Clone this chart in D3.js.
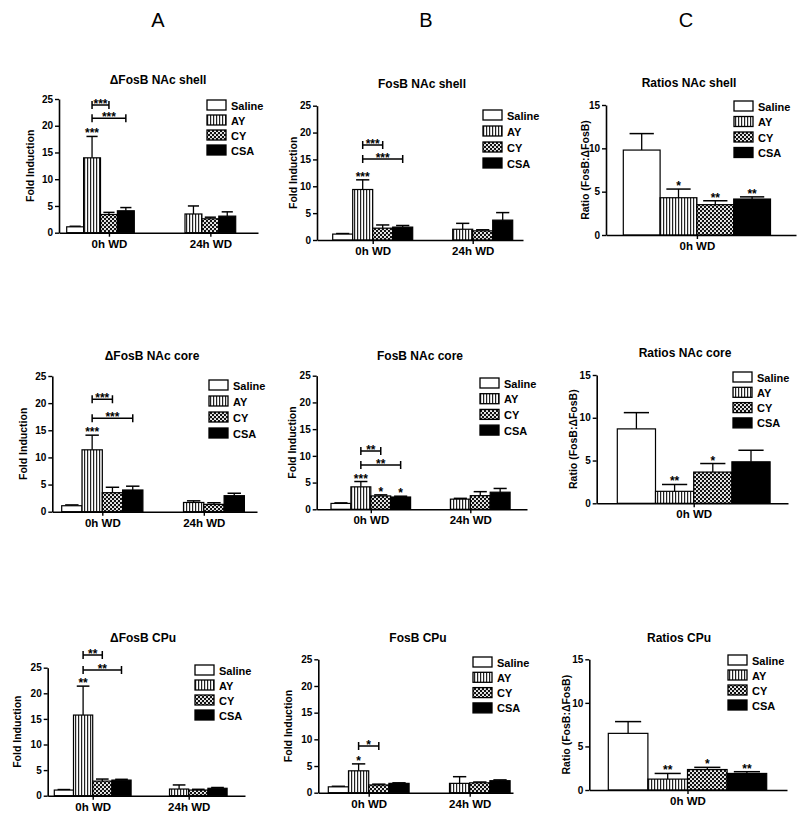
<!DOCTYPE html>
<html><head><meta charset="utf-8">
<script src="https://cdn.jsdelivr.net/npm/d3@7"></script>
<style>
body{margin:0;background:#fff;}
svg text{font-family:"Liberation Sans",Arial,sans-serif;fill:#000;}
</style></head>
<body>
<svg id="chart" width="800" height="820"></svg>
<script>
// ---------------- DATA ----------------
const series = ["Saline", "AY", "CY", "CSA"];
const groups = ["0h WD", "24h WD"];
const ratioGroups = ["0h WD"];
const foldTicks = [0, 5, 10, 15, 20, 25];
const ratioTicks = [0, 5, 10, 15];
const columnLetters = ["A", "B", "C"];
const panelTitles = ["ΔFosB NAc shell", "FosB NAc shell", "Ratios NAc shell",
                     "ΔFosB NAc core", "FosB NAc core", "Ratios NAc core",
                     "ΔFosB CPu", "FosB CPu", "Ratios CPu"];
const foldLabel = "Fold Induction";
const ratioLabel = "Ratio (FosB:ΔFosB)";

// means per group [0h, 24h]; null = not measured
const dfosbShellMean = [[1.1, 14.0, 3.4, 4.1], [null, 3.5, 2.6, 3.1]];
const dfosbShellErr  = [[0.1, 4.0, 0.4, 0.6], [null, 1.5, 0.3, 0.8]];
const fosbShellMean  = [[1.1, 9.4, 2.2, 2.4], [null, 2.0, 1.7, 3.7]];
const fosbShellErr   = [[0.1, 1.8, 0.6, 0.3], [null, 1.1, 0.2, 1.4]];
const ratioShellMean = [[9.8, 4.3, 3.5, 4.15]];
const ratioShellErr  = [[1.9, 1.0, 0.45, 0.25]];

const dfosbCoreMean  = [[1.1, 11.4, 3.5, 4.0], [null, 1.7, 1.35, 2.95]];
const dfosbCoreErr   = [[0.15, 2.7, 1.0, 0.7], [null, 0.3, 0.3, 0.45]];
const fosbCoreMean   = [[1.1, 4.2, 2.5, 2.3], [null, 1.9, 2.55, 3.2]];
const fosbCoreErr    = [[0.1, 1.0, 0.2, 0.15], [null, 0.15, 0.75, 0.7]];
const ratioCoreMean  = [[8.7, 1.4, 3.65, 4.85]];
const ratioCoreErr   = [[1.9, 0.8, 1.0, 1.35]];

const dfosbCPuMean   = [[1.1, 15.75, 2.85, 3.05], [null, 1.3, 1.1, 1.45]];
const dfosbCPuErr    = [[0.1, 5.65, 0.4, 0.15], [null, 0.8, 0.15, 0.15]];
const fosbCPuMean    = [[1.1, 4.1, 1.45, 1.75], [null, 1.75, 1.85, 2.25]];
const fosbCPuErr     = [[0.1, 1.3, 0.15, 0.1], [null, 1.25, 0.15, 0.15]];
const ratioCPuMean   = [[6.5, 1.25, 2.35, 1.9]];
const ratioCPuErr    = [[1.35, 0.65, 0.25, 0.2]];

// significance stars above bars (0h WD group)
const dfosbShellStars = ["", "***", "", ""];
const fosbShellStars  = ["", "***", "", ""];
const ratioShellStars = ["", "*", "**", "**"];
const dfosbCoreStars  = ["", "***", "", ""];
const fosbCoreStars   = ["", "***", "*", "*"];
const ratioCoreStars  = ["", "**", "*", ""];
const dfosbCPuStars   = ["", "**", "", ""];
const fosbCPuStars    = ["", "*", "", ""];
const ratioCPuStars   = ["", "**", "*", "**"];

// comparison brackets: [from series, to series, height (data units), label]
const dfosbShellBrackets = [[1, 2, 23.9, "***"], [1, 3, 21.4, "***"]];
const fosbShellBrackets  = [[1, 2, 17.7, "***"], [1, 3, 15.1, "***"]];
const dfosbCoreBrackets  = [[1, 2, 20.7, "***"], [1, 3, 17.2, "***"]];
const fosbCoreBrackets   = [[1, 2, 10.9, "**"], [1, 3, 8.3, "**"]];
const dfosbCPuBrackets   = [[1, 2, 27.5, "**"], [1, 3, 24.55, "**"]];
const fosbCPuBrackets    = [[1, 2, 8.75, "*"]];

// ---------------- LAYOUT ----------------
const panels = [
  {mean: dfosbShellMean, err: dfosbShellErr, stars: dfosbShellStars, brackets: dfosbShellBrackets, ticks: foldTicks, groups: groups, ylab: foldLabel,
   L: {axisX: 59, axisEnd: 258, y0: 232.7, yTop: 99, barStart: 66.7, w: 16.9, gOff: 6, tickShift: 0.5, ylx: 30, tx: 158, ty: 84, lx: 207, ly: 100, ls: 15}},
  {mean: fosbShellMean, err: fosbShellErr, stars: fosbShellStars, brackets: fosbShellBrackets, ticks: foldTicks, groups: groups, ylab: foldLabel,
   L: {axisX: 317, axisEnd: 523, y0: 240, yTop: 105.7, barStart: 332.7, w: 20, gOff: 5, tickShift: 0, ylx: 293, tx: 422, ty: 88, lx: 483, ly: 110, ls: 16}},
  {mean: ratioShellMean, err: ratioShellErr, stars: ratioShellStars, brackets: [], ticks: ratioTicks, groups: ratioGroups, ylab: ratioLabel,
   L: {axisX: 606, axisEnd: 796, y0: 235, yTop: 105, barStart: 623.3, w: 36.8, gOff: 5, tickShift: 0, ylx: 585, tx: 689, ty: 87, lx: 734, ly: 101, ls: 15.5}},
  {mean: dfosbCoreMean, err: dfosbCoreErr, stars: dfosbCoreStars, brackets: dfosbCoreBrackets, ticks: foldTicks, groups: groups, ylab: foldLabel,
   L: {axisX: 52.3, axisEnd: 257, y0: 511.7, yTop: 376, barStart: 61.7, w: 20.3, gOff: 5, tickShift: 0, ylx: 23, tx: 152, ty: 360, lx: 209, ly: 380, ls: 16}},
  {mean: fosbCoreMean, err: fosbCoreErr, stars: fosbCoreStars, brackets: fosbCoreBrackets, ticks: foldTicks, groups: groups, ylab: foldLabel,
   L: {axisX: 316.7, axisEnd: 527, y0: 509.3, yTop: 375.7, barStart: 331, w: 19.9, gOff: 5, tickShift: 0, ylx: 292, tx: 420, ty: 360, lx: 480, ly: 378, ls: 15.7}},
  {mean: ratioCoreMean, err: ratioCoreErr, stars: ratioCoreStars, brackets: [], ticks: ratioTicks, groups: ratioGroups, ylab: ratioLabel,
   L: {axisX: 596.7, axisEnd: 788, y0: 503.3, yTop: 375, barStart: 617.3, w: 38.2, gOff: 5, tickShift: 0, ylx: 573, tx: 685, ty: 357, lx: 733, ly: 372, ls: 15.3}},
  {mean: dfosbCPuMean, err: dfosbCPuErr, stars: dfosbCPuStars, brackets: dfosbCPuBrackets, ticks: foldTicks, groups: groups, ylab: foldLabel,
   L: {axisX: 47.7, axisEnd: 245, y0: 795.7, yTop: 667.7, barStart: 54.3, w: 19.2, gOff: 5, tickShift: 0, ylx: 17, tx: 143, ty: 642, lx: 195, ly: 665, ls: 15}},
  {mean: fosbCPuMean, err: fosbCPuErr, stars: fosbCPuStars, brackets: fosbCPuBrackets, ticks: foldTicks, groups: groups, ylab: foldLabel,
   L: {axisX: 318.3, axisEnd: 513, y0: 792.7, yTop: 659.3, barStart: 328.3, w: 20.2, gOff: 5, tickShift: 0, ylx: 288, tx: 418, ty: 642, lx: 473, ly: 657, ls: 15.3}},
  {mean: ratioCPuMean, err: ratioCPuErr, stars: ratioCPuStars, brackets: [], ticks: ratioTicks, groups: ratioGroups, ylab: ratioLabel,
   L: {axisX: 589.3, axisEnd: 787, y0: 790, yTop: 659.3, barStart: 608.3, w: 39.6, gOff: 5, tickShift: 0, ylx: 566, tx: 679, ty: 642, lx: 728, ly: 655, ls: 15}}
];
const letterX = [158, 426, 686];

// ---------------- DRAW ----------------
const svg = d3.select("#chart");
const defs = svg.append("defs");
const ps = defs.append("pattern").attr("id", "pStripe").attr("patternUnits", "userSpaceOnUse")
  .attr("width", 3).attr("height", 10);
ps.append("rect").attr("width", 3).attr("height", 10).attr("fill", "#fff");
ps.append("rect").attr("x", 0).attr("width", 1.2).attr("height", 10).attr("fill", "#222");
const pc = defs.append("pattern").attr("id", "pCheck").attr("patternUnits", "userSpaceOnUse")
  .attr("width", 4).attr("height", 4);
pc.append("rect").attr("width", 4).attr("height", 4).attr("fill", "#111");
pc.append("circle").attr("cx", 1).attr("cy", 1).attr("r", 1.05).attr("fill", "#fff");
pc.append("circle").attr("cx", 3).attr("cy", 3).attr("r", 1.05).attr("fill", "#fff");
const fills = ["#fff", "url(#pStripe)", "url(#pCheck)", "#000"];

svg.selectAll("text.letter").data(columnLetters).enter().append("text")
  .attr("class", "letter").attr("x", (d, i) => letterX[i]).attr("y", 27)
  .attr("text-anchor", "middle").style("font-size", "20px").text(d => d);

panels.forEach((p, pi) => {
  const L = p.L;
  const g = svg.append("g");
  const ymax = p.ticks[p.ticks.length - 1];
  const y = d3.scaleLinear().domain([0, ymax]).range([L.y0, L.yTop]);
  const x = d3.scaleLinear().domain([0, 1]).range([L.barStart, L.barStart + L.w]);
  const slot = (gi, si) => gi * L.gOff + si;

  // bars
  const bars = [];
  p.mean.forEach((row, gi) => row.forEach((v, si) => {
    if (v !== null) bars.push({gi, si, v, e: p.err[gi][si]});
  }));
  const bw = x(1) - x(0);
  // error bars (behind bars)
  bars.forEach(b => {
    const cx = x(slot(b.gi, b.si) + 0.5);
    g.append("line").attr("x1", cx).attr("x2", cx).attr("y1", y(b.v)).attr("y2", y(b.v + b.e))
      .attr("stroke", "#000").attr("stroke-width", 1.3);
    g.append("line").attr("x1", cx - bw * 0.33).attr("x2", cx + bw * 0.33)
      .attr("y1", y(b.v + b.e)).attr("y2", y(b.v + b.e))
      .attr("stroke", "#000").attr("stroke-width", 1.5);
  });
  g.selectAll("rect.bar").data(bars).enter().append("rect").attr("class", "bar")
    .attr("x", d => x(slot(d.gi, d.si)))
    .attr("width", bw)
    .attr("y", d => y(d.v))
    .attr("height", d => y(0) - y(d.v))
    .attr("fill", d => fills[d.si]).attr("stroke", "#000").attr("stroke-width", 1.2);

  // y axis
  const ya = g.append("g").attr("transform", `translate(${L.axisX},0)`)
    .call(d3.axisLeft(y).tickValues(p.ticks).tickSize(4).tickSizeOuter(0).tickPadding(2));
  ya.select(".domain").attr("stroke-width", 1.6);
  ya.selectAll(".tick line").attr("stroke-width", 1.4);
  ya.selectAll("text").style("font-size", "10px").style("font-weight", "bold")
    .style("font-family", "'Liberation Sans',Arial,sans-serif");

  // x axis
  const xa = d3.scaleLinear().domain([x.invert(L.axisX), x.invert(L.axisEnd)]).range([L.axisX, L.axisEnd]);
  const centers = p.groups.map((gname, gi) => gi * L.gOff + 2 + L.tickShift);
  const xg = g.append("g").attr("transform", `translate(0,${L.y0})`)
    .call(d3.axisBottom(xa).tickValues(centers).tickFormat((d, i) => p.groups[i])
      .tickSize(4).tickSizeOuter(0).tickPadding(3));
  xg.select(".domain").attr("stroke-width", 1.6);
  xg.selectAll(".tick line").attr("stroke-width", 1.4);
  xg.selectAll("text").style("font-size", "11.5px").style("font-weight", "bold")
    .style("font-family", "'Liberation Sans',Arial,sans-serif");

  // y label
  g.append("text").attr("transform", `translate(${L.ylx},${(L.y0 + L.yTop) / 2}) rotate(-90)`)
    .attr("text-anchor", "middle").attr("dominant-baseline", "central")
    .style("font-size", "10.5px").style("font-weight", "bold").text(p.ylab);

  // title
  g.append("text").attr("x", L.tx).attr("y", L.ty).attr("text-anchor", "middle")
    .style("font-size", "12px").style("font-weight", "bold").text(panelTitles[pi]);

  // stars above bars
  p.stars.forEach((s, si) => {
    if (!s) return;
    const v = p.mean[0][si] + p.err[0][si];
    g.append("text").attr("x", x(slot(0, si) + 0.5)).attr("y", y(v) + 1)
      .attr("text-anchor", "middle").style("font-size", "12px").style("font-weight", "bold").text(s);
  });

  // brackets
  p.brackets.forEach(([a, b, h, lab]) => {
    const x1 = x(slot(0, a) + 0.5), x2 = x(slot(0, b) + 0.5), yy = y(h);
    g.append("path").attr("d", `M${x1},${yy - 4}V${yy + 4}M${x1},${yy}H${x2}M${x2},${yy - 4}V${yy + 4}`)
      .attr("fill", "none").attr("stroke", "#000").attr("stroke-width", 1.5);
    g.append("text").attr("x", (x1 + x2) / 2).attr("y", yy + 3).attr("text-anchor", "middle")
      .style("font-size", "12px").style("font-weight", "bold").text(lab);
  });

  // legend
  const lg = g.append("g");
  series.forEach((s, si) => {
    const yy = L.ly + si * L.ls;
    lg.append("rect").attr("x", L.lx).attr("y", yy).attr("width", 19).attr("height", 10)
      .attr("fill", fills[si]).attr("stroke", "#000").attr("stroke-width", 1.3);
    lg.append("text").attr("x", L.lx + 24).attr("y", yy + 9.5)
      .style("font-size", "11px").style("font-weight", "bold").text(s);
  });
});
</script>
</body></html>
